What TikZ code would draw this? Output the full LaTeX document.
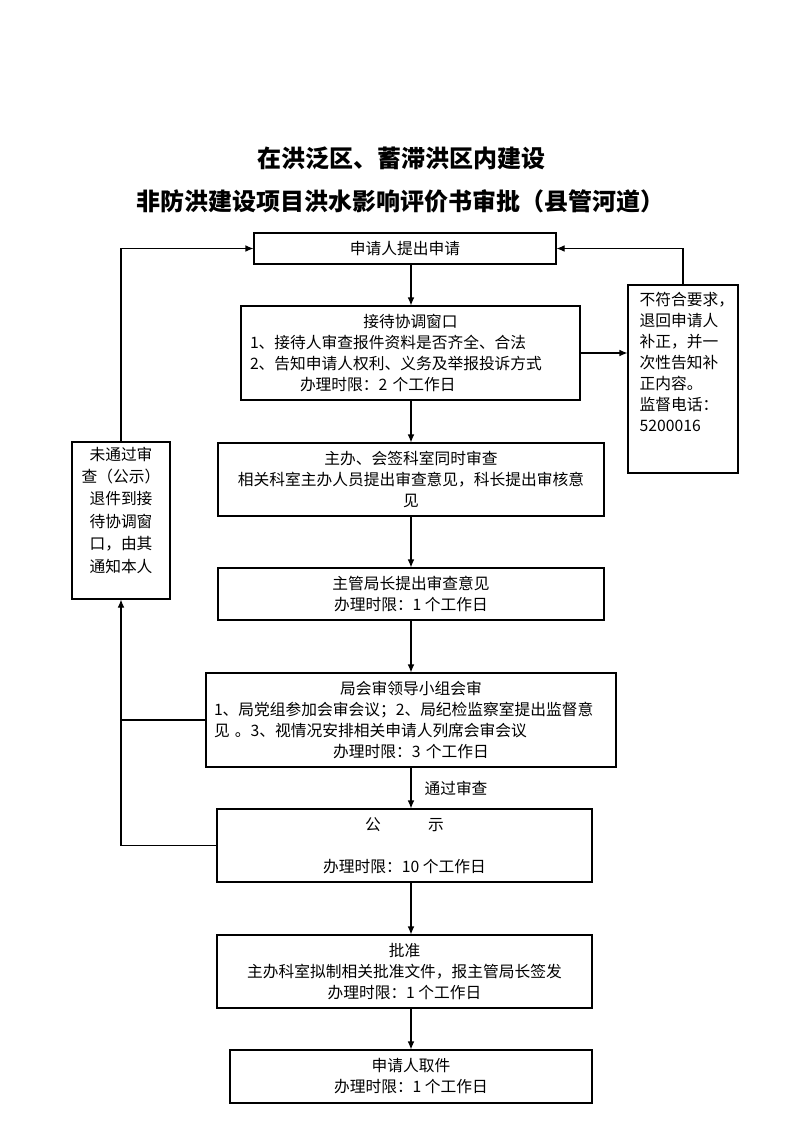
\documentclass[tikz,border=0pt]{standalone}
\usepackage{fontspec}
\setmainfont{Noto Sans CJK SC}
\usetikzlibrary{arrows.meta,calc}

\tikzset{
  txt/.style={font=\fontsize{11.8pt}{15.75pt}\selectfont},
  box/.style={draw, line width=0.8pt, inner sep=0pt, align=center, txt},
  headline/.style={font=\fontsize{18pt}{22pt}\selectfont\bfseries},
  link/.style={line width=0.8pt, -{Latex[length=6pt,width=5pt]}},
}

\begin{document}
\begin{tikzpicture}[x=0.75pt,y=-0.75pt]
\useasboundingbox (0,0) rectangle (800,1132);
% title
\node[headline] (t1) at (401,158) {在洪泛区、蓄滞洪区内建设};
\node[headline] (t2) at (400,201) {非防洪建设项目洪水影响评价书审批（县管河道）};

% main column
\node[box, minimum width=226.5pt, minimum height=23.25pt] (apply) at (405,248.5) {申请人提出申请};
\node[box, align=left, text width=240.75pt, minimum width=254.25pt, minimum height=70.5pt] (window) at (410.5,353)
  {\makebox[\linewidth]{接待协调窗口}\\
   1、接待人审查报件资料是否齐全、合法\\
   2、告知申请人权利、义务及举报投诉方式\\
   \hspace*{37.5pt}办理时限：2 个工作日};
\node[box, minimum width=289.5pt, minimum height=54.75pt] (joint) at (411,479.5)
  {主办、会签科室同时审查\\相关科室主办人员提出审查意见，科长提出审核意\\见};
\node[box, minimum width=289.5pt, minimum height=39pt] (chief) at (411,594)
  {主管局长提出审查意见\\办理时限：1 个工作日};
\node[box, align=left, text width=295.5pt, minimum width=307.5pt, minimum height=70.5pt] (meeting) at (411,720)
  {\makebox[\linewidth]{局会审领导小组会审}\\
   1、局党组参加会审会议；2、局纪检监察室提出监督意\\
   见 。3、视情况安排相关申请人列席会审会议\\
   \makebox[\linewidth]{办理时限：3 个工作日}};
\node[box, minimum width=281.25pt, minimum height=54.75pt] (notice) at (404.5,845.5)
  {公\hspace{3em}示\\[15.75pt]办理时限：10 个工作日};
\node[box, minimum width=281.25pt, minimum height=54.75pt] (approve) at (404.5,971.5)
  {批准\\主办科室拟制相关批准文件，报主管局长签发\\办理时限：1 个工作日};
\node[box, minimum width=271.5pt, minimum height=39.75pt] (collect) at (411,1076.5)
  {申请人取件\\办理时限：1 个工作日};

% side boxes
\node[box, minimum width=82.5pt, minimum height=141pt] (rbox) at (683,379) {};
\node[txt, anchor=north west, align=left, inner sep=0pt] (rtext) at ($(rbox.north west)+(12,7)$)
  {不符合要求，\\退回申请人\\补正，并一\\次性告知补\\正内容。\\监督电话：\\5200016};
\node[box, minimum width=73.5pt, minimum height=117.75pt] (lbox) at (121,520.5) {};
\node[anchor=north, align=center, inner sep=0pt, font=\fontsize{11.8pt}{16.8pt}\selectfont] (ltext) at ($(lbox.north)+(0,5)$)
  {未通过审\\查（公示）\\退件到接\\待协调窗\\口，由其\\通知本人};

% connectors
\draw[link] (apply.south -| meeting) -- (window.north -| meeting);
\draw[link] (window.south -| meeting) -- (joint.north);
\draw[link] (joint.south) -- (chief.north);
\draw[link] (chief.south) -- (meeting.north);
\draw[link] (meeting.south) -- node[txt, anchor=west, inner sep=0pt, xshift=9.75pt] (pass) {通过审查} (notice.north -| meeting);
\draw[link] (notice.south -| meeting) -- (approve.north -| meeting);
\draw[link] (approve.south -| meeting) -- (collect.north);
\draw[link] (window.east) -- (window.east -| rbox.west);
\draw[link] (rbox.north) |- (apply.east);
\draw[link] (lbox.north) |- (apply.west);
\draw[line width=0.8pt] (meeting.west) -- (meeting.west -| lbox.south);
\draw[link] (notice.west) -| (lbox.south);
\end{tikzpicture}
\end{document}
